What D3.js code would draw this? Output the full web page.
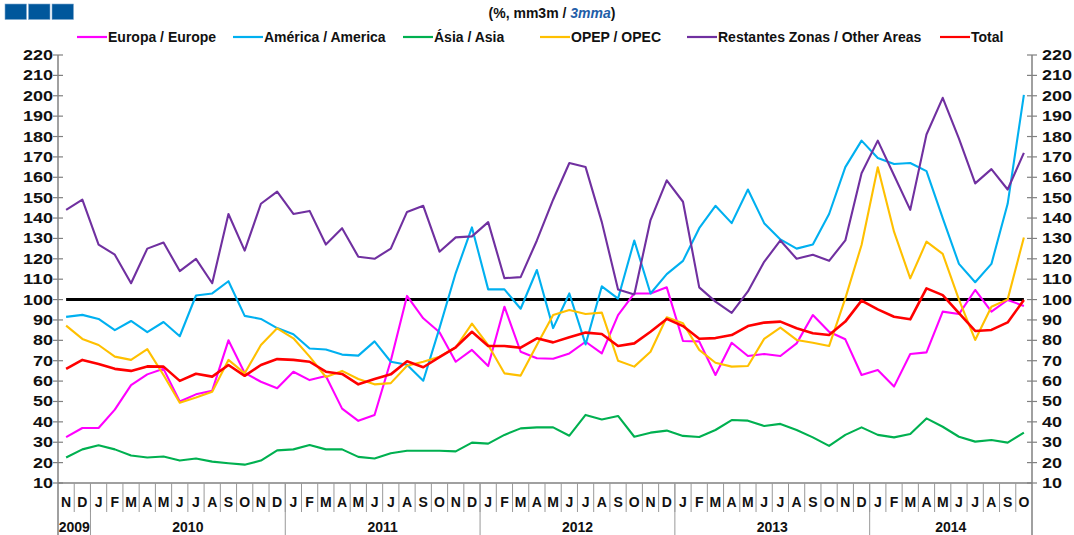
<!DOCTYPE html>
<html>
<head>
<meta charset="utf-8">
<script src="https://cdn.jsdelivr.net/npm/d3@7"></script>
<style>
  html, body { margin: 0; padding: 0; background: #fff; }
  svg { display: block; font-family: "Liberation Sans", Arial, sans-serif; }
</style>
</head>
<body>
<svg id="chart" width="1074" height="535"></svg>
<script>
// ---------- DATA ----------
const monthLabels = ["N","D",
  "J","F","M","A","M","J","J","A","S","O","N","D",
  "J","F","M","A","M","J","J","A","S","O","N","D",
  "J","F","M","A","M","J","J","A","S","O","N","D",
  "J","F","M","A","M","J","J","A","S","O","N","D",
  "J","F","M","A","M","J","J","A","S","O"];
const years = ["2009","2010","2011","2012","2013","2014"];
const monthsPerYear = [2, 12, 12, 12, 12, 10];
const yTicks = [10,20,30,40,50,60,70,80,90,100,110,120,130,140,150,160,170,180,190,200,210,220];

const europa = [32.5,37,37,46,58,63.3,66,50,53.5,55.3,80,64,59.7,56.5,64.6,60.5,62.5,46.5,40.5,
  43.4,70,101.8,90.8,84,69.5,75.3,67.4,96.5,74.4,71.2,71,73.6,79.3,73.6,92.4,103,103,106,79.7,
  79.5,63,78.8,72.3,73.3,72.3,78.5,92.4,84.2,80.5,63,65.4,57.3,73.3,74.1,94.1,92.9,104.7,94.1,99.8,96.9];
const america = [91.5,92.5,90.5,85,89.5,84,89,82,102,103,109,92,90.5,86,83,76,75.5,73,72.5,
  79.5,69.5,68,60.2,86,113,135.4,105,105,95.5,114.5,86,103,78,106.5,100.5,129,103,112.5,119,
  135,146,137.5,154,137.5,129.5,125,127,142,165,178,169.5,166.5,167,163,140,117.5,108.5,117.5,147,200.4];
const asia = [22.5,26.5,28.5,26.5,23.5,22.5,23,21,22,20.5,19.7,19,21,26,26.5,28.6,26.5,26.5,22.8,
  22,24.6,25.8,25.8,25.8,25.5,29.8,29.3,33.6,36.8,37.3,37.3,33.2,43.4,41.2,42.9,32.7,34.7,35.7,33.1,
  32.6,36,40.9,40.6,38,39,36,32.4,28.2,33.6,37.3,33.6,32.4,34,41.7,37.6,32.7,30.3,31.1,29.8,34.7];
const opep = [87.2,80.7,77.7,72,70.4,75.7,63,49.4,52,54.8,70.4,63.8,77.7,85.9,81,72,62,65,61,
  58.4,59,67.5,69.5,72,76.5,88.2,77.7,63.8,62.7,77.7,92.4,94.9,92.9,93.6,70,67.1,74.4,91.3,88.4,
  75.3,69,67.1,67.4,80.7,86.2,80.2,78.8,77.2,100.6,126.8,164.9,133.3,110.4,128.4,122.4,100,80.2,96.5,100.1,130.5];
const outras = [144,149,127,122,108,125,128,114,120,108,142,124,147,153,142,143.5,127,135,121,
  120,125,143,146,123.5,130.5,131,138,110.5,111,129,149,167,165,138,105,102.5,139,158.5,148,
  106,99,93.5,104,118.5,129,120,122,119,129,162,178,161,144,181,199,179,157,164,154,172];
const total = [66,70.4,68.4,66,65,67.2,67.1,60.1,63.6,62.2,67.9,62.6,67.9,70.8,70.4,69.5,64.6,63.5,58.4,
  61,63.3,69.7,66.8,71.8,76.6,84.2,77.2,77.2,76.4,81,79,81.5,83.8,83.1,77.2,78.5,84.2,90.5,87,
  80.8,81.1,82.6,87,88.7,89.2,85.9,83.5,82.6,89.2,99.5,95.2,91.6,90.3,105.5,102.2,93.3,84.6,85.1,88.8,99.8];
const reference = monthLabels.map(() => 100);

const seriesNames = ["Europa / Europe","América / America","Ásia / Asia","OPEP / OPEC","Restantes Zonas / Other Areas","Total"];
const seriesValues = [europa, america, asia, opep, outras, total];
const seriesColors = ["#ff00ff","#00b0f0","#00b050","#ffc000","#7030a0","#ff0000"];

// ---------- LAYOUT ----------
const svg = d3.select("#chart");
const pL = 58, pR = 1032, pT = 55, pB = 483;

const x = d3.scaleBand().domain(d3.range(monthLabels.length)).range([pL, pR]).padding(0);
const xc = i => x(i) + x.bandwidth() / 2;
const y = d3.scaleLinear().domain([10, 220]).range([pB, pT]);

// header squares
[5, 28.5, 52].forEach(sx => {
  svg.append("rect").attr("x", sx).attr("y", 4).attr("width", 21.5).attr("height", 15.5)
    .attr("fill", "#00579c").attr("stroke", "#7fa9cf").attr("stroke-width", 0.6);
});

// title
const title = svg.append("text").attr("x", 552).attr("y", 18).attr("text-anchor", "middle")
  .attr("font-size", 14).attr("font-weight", "bold").attr("fill", "#111");
title.append("tspan").text("(%, mm3m / ");
title.append("tspan").attr("fill", "#1f5ea8").attr("font-style", "italic").text("3mma");
title.append("tspan").text(")");

// legend
const legendX = [77, 233, 403, 540, 687, 940];
seriesNames.forEach((name, k) => {
  const g = svg.append("g").attr("transform", `translate(${legendX[k]},37)`);
  g.append("line").attr("x1", 0).attr("x2", 30).attr("y1", 0).attr("y2", 0)
    .attr("stroke", seriesColors[k]).attr("stroke-width", 2.2);
  g.append("text").attr("x", 31).attr("y", 5).attr("font-size", 14).attr("font-weight", "bold")
    .attr("fill", "#111").text(name);
});

// y axes
const yAxisL = d3.axisLeft(y).tickValues(yTicks).tickSize(0).tickPadding(6);
const yAxisR = d3.axisRight(y).tickValues(yTicks).tickSize(0).tickPadding(10);
const gL = svg.append("g").attr("transform", `translate(${pL},0)`).call(yAxisL);
const gR = svg.append("g").attr("transform", `translate(${pR},0)`).call(yAxisR);
[gL, gR].forEach(g => {
  g.select(".domain").remove();
  g.selectAll("text").attr("font-size", 14).attr("font-weight", "bold").attr("fill", "#111")
    .attr("font-family", "Liberation Sans, Arial, sans-serif")
    .attr("textLength", d => String(d).length * 10)
    .attr("lengthAdjust", "spacingAndGlyphs");
});
gL.selectAll("text").attr("x", -5);
gR.selectAll("text").attr("x", 10);
// tick marks crossing the axes
[pL, pR].forEach(ax => {
  svg.append("g").selectAll("line").data(yTicks).join("line")
    .attr("x1", ax - 5).attr("x2", ax + 5)
    .attr("y1", d => y(d)).attr("y2", d => y(d))
    .attr("stroke", "#808080").attr("stroke-width", 1.2);
});
// axis lines
svg.append("line").attr("x1", pL).attr("x2", pL).attr("y1", pT).attr("y2", 535)
  .attr("stroke", "#808080").attr("stroke-width", 1.5);
svg.append("line").attr("x1", pR).attr("x2", pR).attr("y1", pT).attr("y2", 535)
  .attr("stroke", "#808080").attr("stroke-width", 1.5);
svg.append("line").attr("x1", pL).attr("x2", pR).attr("y1", pB).attr("y2", pB)
  .attr("stroke", "#808080").attr("stroke-width", 1.5);

// month separators & labels
svg.append("g").selectAll("line").data(d3.range(1, monthLabels.length)).join("line")
  .attr("x1", i => x(i)).attr("x2", i => x(i)).attr("y1", pB).attr("y2", 512)
  .attr("stroke", "#999").attr("stroke-width", 1);
svg.append("g").selectAll("text").data(monthLabels).join("text")
  .attr("x", (d, i) => xc(i)).attr("y", 507).attr("text-anchor", "middle")
  .attr("font-size", 14).attr("font-weight", "bold").attr("fill", "#111").text(d => d);

// year separators & labels
let acc = 0;
years.forEach((yr, k) => {
  const start = acc, end = acc + monthsPerYear[k];
  const x0 = x(start), x1 = end < monthLabels.length ? x(end) : pR;
  if (end < monthLabels.length) {
    svg.append("line").attr("x1", x1).attr("x2", x1).attr("y1", pB).attr("y2", 535)
      .attr("stroke", "#999").attr("stroke-width", 1);
  }
  svg.append("text").attr("x", (x0 + x1) / 2).attr("y", 532).attr("text-anchor", "middle")
    .attr("font-size", 14).attr("font-weight", "bold").attr("fill", "#111").text(yr);
  acc = end;
});

// lines
const line = d3.line().x((d, i) => xc(i)).y(d => y(d));
svg.append("path").datum(reference).attr("d", line).attr("fill", "none")
  .attr("stroke", "#000").attr("stroke-width", 3);
seriesValues.forEach((vals, k) => {
  svg.append("path").datum(vals).attr("d", line).attr("fill", "none")
    .attr("stroke", seriesColors[k]).attr("stroke-width", k === 5 ? 2.6 : 2.1)
    .attr("stroke-linejoin", "round");
});
</script>
</body>
</html>
